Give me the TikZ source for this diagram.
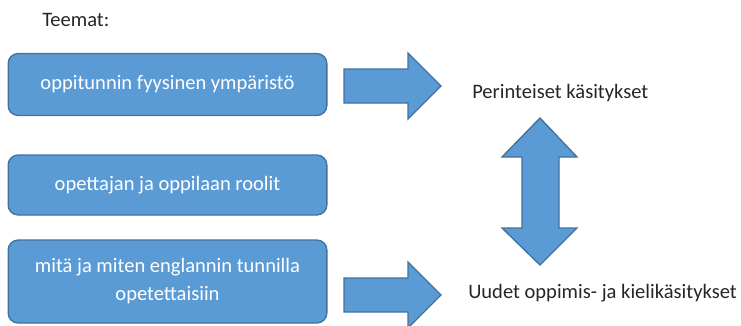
\documentclass[tikz,border=0pt]{standalone}
\usepackage{fontspec}
\setmainfont{Carlito}
\definecolor{officeblue}{HTML}{5B9BD5}
\definecolor{officeedge}{HTML}{41719C}
\definecolor{textgray}{HTML}{262626}
\tikzset{
  theme/.style={draw=officeedge,line width=1pt,fill=officeblue,rounded corners=7.5pt,
    minimum width=239pt,align=center,text=white,inner sep=0pt,
    font=\fontsize{15.4}{21}\selectfont},
  label/.style={text=textgray,inner sep=0pt,font=\fontsize{15.4}{21}\selectfont},
  blockarrow/.style={draw=officeedge,line width=1pt,fill=officeblue,line join=miter}
}
\begin{document}
\begin{tikzpicture}[x=0.75pt,y=-0.75pt]
\useasboundingbox (0,0) rectangle (741,325);
%themes:
\node (title) at (42,20) [label,anchor=west] {Teemat:};
\node (physical) at (167.5,84.5) [theme,minimum height=46.5pt] {oppitunnin fyysinen ympäristö};
\node (roles) at (167.5,185) [theme,minimum height=45pt] {opettajan ja oppilaan roolit};
\node (content) at (167.5,281.5) [theme,minimum height=62.25pt] {mitä ja miten englannin tunnilla\\opetettaisiin};

%conceptions:
\node (traditional) at (472,93) [label,anchor=west] {Perinteiset käsitykset};
\node (new) at (468,293) [label,anchor=west] {Uudet oppimis- ja kielikäsitykset};

%arrows:
\draw [blockarrow] (344,69) -- (408,69) -- (408,53) -- (441,86) -- (408,119) -- (408,103) -- (344,103) -- cycle;
\draw [blockarrow] (344,278) -- (408,278) -- (408,262) -- (441,295) -- (408,328) -- (408,312) -- (344,312) -- cycle;
\draw [blockarrow] (540,118) -- (577,157) -- (559,157) -- (559,228) -- (577,228) -- (540,265)
  -- (502,228) -- (522,228) -- (522,157) -- (502,157) -- cycle;
\end{tikzpicture}
\end{document}
